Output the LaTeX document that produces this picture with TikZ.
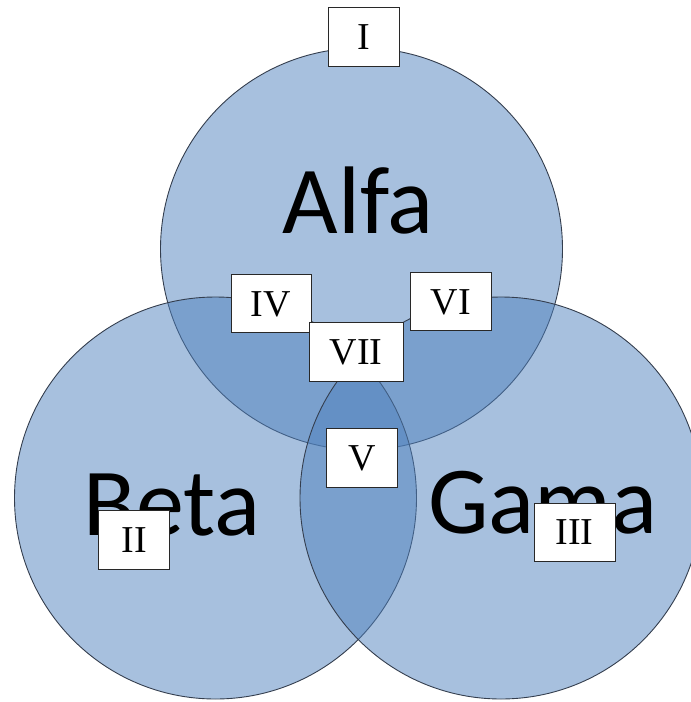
\documentclass[tikz,border=0pt]{standalone}
\usepackage{fontspec}
\setmainfont{Liberation Serif}
\newfontfamily\calib{Carlito}
\definecolor{setfill}{RGB}{79,129,189}
\definecolor{setline}{RGB}{52,62,78}
\definecolor{boxline}{RGB}{40,40,40}
\begin{document}
\begin{tikzpicture}[x=1pt,y=-1pt,
  setcircle/.style={circle, minimum size=402pt, inner sep=0pt, fill=setfill, fill opacity=0.5, draw=setline, line width=0.9pt},
  setname/.style={anchor=base, font=\calib\fontsize{96}{100}\selectfont, text=black, inner sep=0pt},
  regbox/.style={draw=boxline, fill=white, line width=1pt, minimum height=59pt, inner sep=0pt, text height=25pt, text depth=-4pt, font=\fontsize{38}{40}\selectfont}]
\useasboundingbox (0,0) rectangle (691,702);
\node[setcircle] (alfa) at (361.5,249) {};
\node[setcircle] (beta) at (215.5,498) {};
\node[setcircle] (gama) at (501,498) {};
\node[setname] (talfa) at (358,233.6) {Alfa};
\node[setname] (tbeta) at (172,535) {Beta};
\node[setname] (tgama) at (543,533) {Gama};
\node[regbox, minimum width=71pt] (r1) at (363.5,37) {I};
\node[regbox, minimum width=71pt] (r2) at (134.3,540) {II};
\node[regbox, minimum width=81pt, minimum height=58pt] (r3) at (574.5,532) {III};
\node[regbox, minimum width=80pt, minimum height=58pt] (r4) at (271,303.5) {IV};
\node[regbox, minimum width=71pt] (r5) at (362,458) {V};
\node[regbox, minimum width=81pt, minimum height=58pt] (r6) at (451,301.5) {VI};
\node[regbox, minimum width=94pt] (r7) at (356,352) {VII};
\end{tikzpicture}
\end{document}
